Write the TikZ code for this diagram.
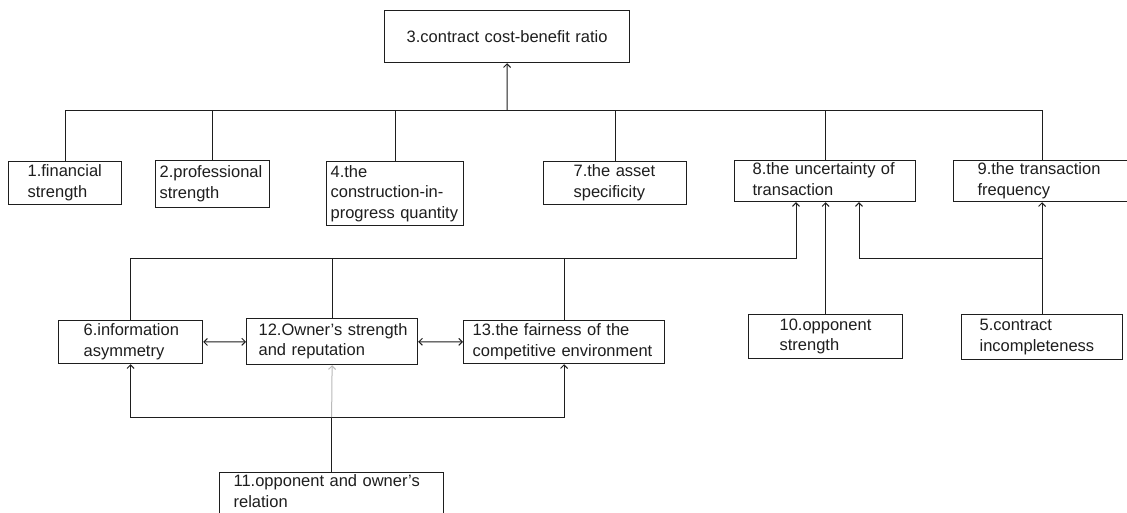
\documentclass[tikz,border=0pt]{standalone}
\usepackage{fontspec}
\setmainfont{Liberation Sans}
\usetikzlibrary{arrows.meta}
\definecolor{ink}{HTML}{1E1E1E}
\newcommand\padlines[2]{\hspace*{#1}\begin{tabular}[c]{@{}l@{}}#2\end{tabular}}
\begin{document}
\begin{tikzpicture}[x=1pt,y=-1pt,
  bx/.style={draw=ink, line width=1.2pt, inner xsep=0pt, inner ysep=0pt, anchor=north west,
    align=left, text=ink, font=\fontsize{16.5}{20.5}\selectfont},
  bxc/.style={bx, align=center},
  conn/.style={draw=ink, line width=1pt},
  tip/.style={-{Straight Barb[length=3.5pt,width=7pt]}},
  dtip/.style={{Straight Barb[length=3.5pt,width=7pt]}-{Straight Barb[length=3.5pt,width=7pt]}}
]
\useasboundingbox (0,0) rectangle (1127,512);
\fill[white] (0,0) rectangle (1127,512);

% top level
\node[bxc, text width=245pt, minimum height=52pt] (n3) at (384,10) {3.contract cost-benefit ratio};

% second row
\node[bx, text width=113pt, minimum height=43pt] (n1) at (8,161) {\padlines{19pt}{1.financial\\strength}};
\node[bx, text width=114pt, minimum height=47pt] (n2) at (155,160) {\padlines{4pt}{2.professional\\strength}};
\node[bx, text width=137pt, minimum height=64pt] (n4) at (326,161) {\padlines{4pt}{4.the\\construction-in-\\progress quantity}};
\node[bx, text width=143pt, minimum height=43pt] (n7) at (543,161) {\padlines{30pt}{7.the asset\\specificity}};
\node[bx, text width=181pt, minimum height=39pt] (n8) at (734,160) {\padlines{18pt}{8.the uncertainty of\\transaction}};
\node[bx, text width=177pt, minimum height=41pt] (n9) at (953,160) {\padlines{24pt}{9.the transaction\\frequency}};

% third row
\node[bx, text width=144pt, minimum height=43pt] (n6) at (58,320) {\padlines{25pt}{6.information\\asymmetry}};
\node[bx, text width=171pt, minimum height=46pt] (n12) at (246,318) {\padlines{12pt}{12.Owner's strength\\and reputation}};
\node[bx, text width=201pt, minimum height=43pt] (n13) at (463,320) {\padlines{9pt}{13.the fairness of the\\competitive environment}};
\node[bx, text width=154pt, minimum height=44pt] (n10) at (748,314) {\padlines{31pt}{10.opponent\\strength}};
\node[bx, text width=161pt, minimum height=45pt] (n5) at (961,314) {\padlines{18pt}{5.contract\\incompleteness}};

% bottom
\node[bx, text width=224pt, minimum height=39pt] (n11) at (219,472) {\padlines{14pt}{11.opponent and owner's\\relation}};

% bus to node 3
\coordinate (tb) at (507,110);
\draw[conn] (n1.north) -- (n1.north |- tb) -- (n9.north |- tb) -- (n9.north);
\foreach \n in {n2,n4,n7,n8} \draw[conn] (\n.north) -- (\n.north |- tb);
\draw[conn,tip] (tb) -- (n3.south);

% bus to node 8
\coordinate (mb) at (796,258);
\draw[conn,tip] (n6.north) |- (mb) -- (mb |- n8.south);
\draw[conn] (n12.north) -- (n12.north |- mb);
\draw[conn] (n13.north) -- (n13.north |- mb);
\draw[conn,tip] (n10.north) -- (n10.north |- n8.south);
\draw[conn,tip] (n5.north) -- (n5.north |- n9.south);
\coordinate (rb) at (859,258);
\draw[conn,tip] (n5.north |- rb) -- (rb) -- (rb |- n8.south);

% mutual relations
\draw[conn,dtip] (n6) -- (n12);
\draw[conn,dtip] (n12) -- (n13);

% from node 11
\coordinate (bb) at (n11.north |- 0,417);
\draw[conn] (n11.north) -- (bb);
\draw[conn,tip] (bb) -| (n6.south);
\draw[conn,tip] (bb) -| (n13.south);
\draw[conn,tip,draw=gray!55] (bb) -- (n12.south);
\end{tikzpicture}
\end{document}
